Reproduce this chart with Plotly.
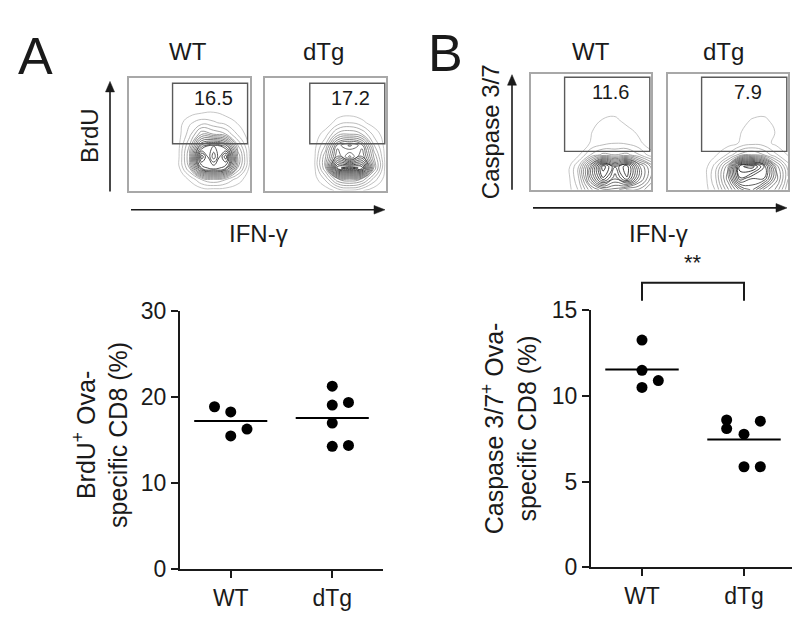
import plotly.graph_objects as go

# ---------------- data ----------------
categories = ["WT", "dTg"]

# bottom-left: BrdU+ Ova-specific CD8 (%)
brdu_wt = [18.9, 18.3, 16.3, 15.5]
brdu_dtg = [21.3, 19.1, 19.4, 17.0, 14.3, 14.4]
brdu_wt_jit = [-0.16, 0.0, 0.16, 0.0]
brdu_dtg_jit = [0.0, 0.0, 0.16, 0.0, 0.0, 0.16]

# bottom-right: Caspase 3/7+ Ova-specific CD8 (%)
casp_wt = [13.27, 11.5, 10.9, 10.5]
casp_dtg = [8.6, 8.1, 7.77, 8.53, 5.87, 5.87]
casp_wt_jit = [0.0, 0.0, 0.16, 0.0]
casp_dtg_jit = [-0.17, -0.17, 0.0, 0.16, 0.0, 0.16]

brdu_ticks = [0, 10, 20, 30]
casp_ticks = [0, 5, 10, 15]

# flow gate percentages
gate_brdu = ["16.5", "17.2"]
gate_casp = ["11.6", "7.9"]

# flow density grids (rows: y 0..100, cols: x 0..100)
grid = [0, 10, 20, 30, 40, 50, 60, 70, 80, 90, 100]
z_brdu_wt = [
    [0, 0, 0, 0, 0, 0, 0, 0, 0, 0, 0],
    [0, 0, 0, 0, 0, 0.4, 1.5, 2, 1.5, 0.6, 0],
    [0, 0, 0, 0, 0, 2, 7, 8, 7, 2.5, 0.1],
    [0, 0, 0, 0, 0, 2.5, 9, 6, 9, 3, 0.2],
    [0, 0, 0, 0, 0, 2, 6, 7, 6, 2, 0.1],
    [0, 0, 0, 0, 0, 1.2, 3, 2.5, 2, 0.8, 0],
    [0, 0, 0, 0, 0, 0.8, 1.2, 1, 0.7, 0.3, 0],
    [0, 0, 0, 0, 0, 0, 0.2, 0.3, 0.1, 0, 0],
    [0, 0, 0, 0, 0, 0, 0, 0, 0, 0, 0],
    [0, 0, 0, 0, 0, 0, 0, 0, 0, 0, 0],
    [0, 0, 0, 0, 0, 0, 0, 0, 0, 0, 0],
]
z_brdu_dtg = [
    [0, 0, 0, 0, 0, 0, 0.5, 0.8, 0.4, 0, 0],
    [0, 0, 0, 0, 0, 1, 3, 3.5, 3, 1.2, 0],
    [0, 0, 0, 0, 0, 2.5, 9, 9.5, 9, 3, 0],
    [0, 0, 0, 0, 0, 2.5, 6, 4, 6, 2.5, 0],
    [0, 0, 0, 0, 0, 1.5, 5, 6, 5, 1.5, 0],
    [0, 0, 0, 0, 0, 0.6, 2.2, 2.5, 2, 0.7, 0],
    [0, 0, 0, 0, 0, 0, 0.6, 0.9, 0.5, 0.1, 0],
    [0, 0, 0, 0, 0, 0, 0, 0, 0, 0, 0],
    [0, 0, 0, 0, 0, 0, 0, 0, 0, 0, 0],
    [0, 0, 0, 0, 0, 0, 0, 0, 0, 0, 0],
    [0, 0, 0, 0, 0, 0, 0, 0, 0, 0, 0],
]
z_casp_wt = [
    [0, 0, 0, 0, 1, 3, 4, 4, 3, 3, 2],
    [0, 0, 0, 0, 1.5, 5, 8, 6, 8, 5, 3],
    [0, 0, 0, 0, 1.5, 5, 9, 7, 8.5, 5, 3],
    [0, 0, 0, 0, 0.3, 1.5, 2.2, 2, 2.2, 1.5, 0.6],
    [0, 0, 0, 0, 0, 0.4, 0.7, 0.9, 0.8, 0.5, 0],
    [0, 0, 0, 0, 0, 0.3, 0.8, 0.6, 0.6, 0.2, 0],
    [0, 0, 0, 0, 0, 0, 0.4, 0.5, 0.1, 0, 0],
    [0, 0, 0, 0, 0, 0, 0, 0, 0, 0, 0],
    [0, 0, 0, 0, 0, 0, 0, 0, 0, 0, 0],
    [0, 0, 0, 0, 0, 0, 0, 0, 0, 0, 0],
    [0, 0, 0, 0, 0, 0, 0, 0, 0, 0, 0],
]
z_casp_dtg = [
    [0, 0, 0, 0, 1, 3, 5, 6, 4, 3, 1],
    [0, 0, 0, 0, 1.5, 4, 8, 7, 7, 4, 1.5],
    [0, 0, 0, 0, 1.2, 3.5, 9, 9.5, 7.5, 3.5, 1.2],
    [0, 0, 0, 0, 0.3, 1, 2.2, 2.6, 2, 1, 0.3],
    [0, 0, 0, 0, 0, 0.1, 0.4, 0.7, 0.6, 0.2, 0],
    [0, 0, 0, 0, 0, 0, 0.3, 0.7, 0.8, 0.3, 0],
    [0, 0, 0, 0, 0, 0, 0.1, 0.4, 0.5, 0.1, 0],
    [0, 0, 0, 0, 0, 0, 0, 0, 0, 0, 0],
    [0, 0, 0, 0, 0, 0, 0, 0, 0, 0, 0],
    [0, 0, 0, 0, 0, 0, 0, 0, 0, 0, 0],
    [0, 0, 0, 0, 0, 0, 0, 0, 0, 0, 0],
]

# gates in flow coordinates [x0, x1, y0, y1]
gate_a = [[36, 98, 41.5, 95], [37, 99, 41.5, 95]]
gate_b = [[28, 99, 33, 97], [28, 99, 33, 97]]

# ---------------- figure ----------------
W, H = 800, 624
FONT = "Liberation Sans, Arial, sans-serif"
INK = "#1a1a1a"


def px(x):
    return x / W


def py(y):
    return 1 - y / H


fig = go.Figure()

flows = [
    (z_brdu_wt, "x", "y"),
    (z_brdu_dtg, "x2", "y2"),
    (z_casp_wt, "x3", "y3"),
    (z_casp_dtg, "x4", "y4"),
]
for z, xa, ya in flows:
    fig.add_trace(go.Contour(
        x=grid, y=grid, z=z, xaxis=xa, yaxis=ya,
        contours=dict(coloring="lines", start=0.35, end=9.6, size=0.55),
        colorscale=[[0, "#b8b8b8"], [0.45, "#5a5a5a"], [1, "#000000"]],
        line=dict(width=0.8, smoothing=1.3),
        showscale=False, hoverinfo="skip",
    ))

flow_domains = {
    "": ([121, 242], [59, 177]),
    "2": ([257, 378], [59, 177]),
    "3": ([523, 643], [55, 176]),
    "4": ([660, 780], [55, 176]),
}
for k, (xd, yd) in flow_domains.items():
    fig.update_layout(**{
        f"xaxis{k}": dict(domain=[px(xd[0]), px(xd[1])], range=[0, 100],
                          showticklabels=False, ticks="", showgrid=False,
                          zeroline=False, showline=True, mirror=True,
                          linecolor="#a8a8a8", linewidth=1.5,
                          anchor=f"y{k}"),
        f"yaxis{k}": dict(domain=[py(yd[1]), py(yd[0])], range=[0, 100],
                          showticklabels=False, ticks="", showgrid=False,
                          zeroline=False, showline=True, mirror=True,
                          linecolor="#a8a8a8", linewidth=1.5,
                          anchor=f"x{k}"),
    })

shapes = []
annotations = []
gate_specs = [
    (gate_a[0], gate_brdu[0], "x", "y"),
    (gate_a[1], gate_brdu[1], "x2", "y2"),
    (gate_b[0], gate_casp[0], "x3", "y3"),
    (gate_b[1], gate_casp[1], "x4", "y4"),
]
for g, lab, xa, ya in gate_specs:
    shapes.append(dict(type="rect", xref=xa, yref=ya, x0=g[0], x1=g[1],
                       y0=g[2], y1=g[3], line=dict(color="#5a5a5a", width=1.4)))
    annotations.append(dict(xref=xa, yref=ya, x=(g[0] + g[1]) / 2 + 3,
                            y=g[3] - 13, text=lab, showarrow=False,
                            font=dict(size=20, color=INK, family=FONT)))

# scatter plots
pts = [
    (brdu_wt, brdu_wt_jit, 0, "x5", "y5"),
    (brdu_dtg, brdu_dtg_jit, 1, "x5", "y5"),
    (casp_wt, casp_wt_jit, 0, "x6", "y6"),
    (casp_dtg, casp_dtg_jit, 1, "x6", "y6"),
]
for vals, jit, pos, xa, ya in pts:
    fig.add_trace(go.Scatter(
        x=[pos + j for j in jit], y=vals, mode="markers", xaxis=xa, yaxis=ya,
        marker=dict(size=11, color="black"), showlegend=False, hoverinfo="skip"))
    m = sum(vals) / len(vals)
    fig.add_trace(go.Scatter(
        x=[pos - 0.36, pos + 0.36], y=[m, m], mode="lines", xaxis=xa, yaxis=ya,
        line=dict(color="black", width=2), showlegend=False, hoverinfo="skip"))

common_x = dict(range=[-0.5, 1.5], tickvals=[0, 1], ticktext=categories,
                ticks="outside", ticklen=7, tickwidth=2, tickcolor=INK,
                showline=True, linecolor=INK, linewidth=2, showgrid=False,
                zeroline=False, tickfont=dict(size=23, color=INK, family=FONT))
common_y = dict(ticks="outside", ticklen=7, tickwidth=2, tickcolor=INK,
                showline=True, linecolor=INK, linewidth=2, showgrid=False,
                zeroline=False, tickfont=dict(size=23, color=INK, family=FONT))
fig.update_layout(
    xaxis5=dict(domain=[px(172), px(375)], anchor="y5", **common_x),
    yaxis5=dict(domain=[py(572), py(303)], anchor="x5", range=[0, 30],
                tickvals=brdu_ticks, **common_y),
    xaxis6=dict(domain=[px(583), px(787)], anchor="y6", **common_x),
    yaxis6=dict(domain=[py(570), py(302)], anchor="x6", range=[0, 15],
                tickvals=casp_ticks, **common_y),
)

# significance bracket
shapes.append(dict(type="path", xref="x6", yref="paper",
                   path=f"M 0,{py(292)} L 0,{py(273)} L 1,{py(273)} L 1,{py(292)}",
                   line=dict(color=INK, width=2)))
annotations.append(dict(xref="x6", yref="paper", x=0.5, y=py(252), text="**",
                        showarrow=False, font=dict(size=22, color=INK, family=FONT)))

# texts
def txt(x, y, s, size, angle=0):
    annotations.append(dict(xref="paper", yref="paper", x=px(x), y=py(y), text=s,
                            showarrow=False, textangle=angle, xanchor="center",
                            yanchor="middle", font=dict(size=size, color=INK, family=FONT)))

txt(27, 37, "A", 52)
txt(437, 33, "B", 52)
txt(180, 32, "WT", 24)
txt(315, 32, "dTg", 24)
txt(583, 32, "WT", 24)
txt(715, 32, "dTg", 24)
txt(82, 120, "BrdU", 24, -90)
txt(482, 116, "Caspase 3/7", 24, -90)
txt(250, 222, "IFN-γ", 24)
txt(650, 222, "IFN-γ", 24)
txt(92, 432, "BrdU<sup>+</sup> Ova-<br>specific CD8 (%)", 25, -90)
txt(501, 425, "Caspase 3/7<sup>+</sup> Ova-<br>specific CD8 (%)", 25, -90)


# arrows drawn as a shaft plus a filled head
def arrow(x0, y0, x1, y1, head=11, half=4.5):
    import math
    dx, dy = x1 - x0, y1 - y0
    L = math.hypot(dx, dy)
    ux, uy = dx / L, dy / L
    bx, by = x1 - ux * head, y1 - uy * head
    shapes.append(dict(type="line", xref="paper", yref="paper",
                       x0=px(x0), y0=py(y0), x1=px(bx + ux * 2), y1=py(by + uy * 2),
                       line=dict(color=INK, width=1.6)))
    p1 = (bx - uy * half, by + ux * half)
    p2 = (bx + uy * half, by - ux * half)
    shapes.append(dict(type="path", xref="paper", yref="paper",
                       path=f"M {px(x1)},{py(y1)} L {px(p1[0])},{py(p1[1])} "
                            f"L {px(p2[0])},{py(p2[1])} Z",
                       fillcolor=INK, line=dict(color=INK, width=0.5)))


arrow(102, 178, 102, 63)
arrow(123, 197, 377, 197)
arrow(504, 176, 504, 56)
arrow(525, 195, 779, 195)

fig.update_layout(width=W, height=H, autosize=False,
                  margin=dict(l=0, r=0, t=0, b=0),
                  paper_bgcolor="white", plot_bgcolor="white",
                  showlegend=False, shapes=shapes, annotations=annotations)

fig.write_html("out.html")
